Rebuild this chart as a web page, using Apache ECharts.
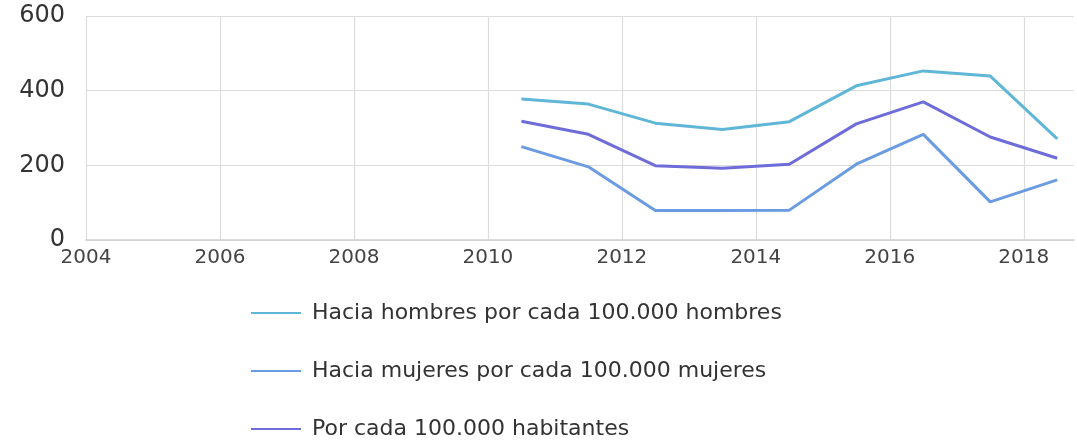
<!DOCTYPE html>
<html>
<head>
<meta charset="utf-8">
<script src="https://cdn.jsdelivr.net/npm/echarts@6/dist/echarts.min.js"></script>
<style>
html,body{margin:0;padding:0;background:#fff;}
#chart{width:1077px;height:440px;}
</style>
</head>
<body>
<div id="chart"></div>
<script>
var years = [2010.5, 2011.5, 2012.5, 2013.5, 2014.5, 2015.5, 2016.5, 2017.5, 2018.5];
var hombres = [378, 364, 313, 296, 317, 413, 453, 439, 271];
var mujeres = [250, 196, 79, 79, 80, 203, 283, 102, 161];
var habitantes = [318, 283, 199, 192, 203, 311, 370, 276, 219];
var seriesNames = ['Hacia hombres por cada 100.000 hombres', 'Hacia mujeres por cada 100.000 mujeres', 'Por cada 100.000 habitantes'];
var colors = ['#5fb6d6', '#6b9be0', '#6d6cd8'];
var yTicks = [0, 200, 400, 600];

function pairs(vals) { return years.map(function (y, i) { return [y, vals[i]]; }); }

var chart = echarts.init(document.getElementById('chart'));
var allSeries = [hombres, mujeres, habitantes].map(function (vals, i) {
  return {
    name: seriesNames[i],
    type: 'line',
    data: pairs(vals),
    symbol: 'none',
    lineStyle: { color: colors[i], width: 3 },
    itemStyle: { color: colors[i] },
    z: 3 + i
  };
});
var legendTops = [302, 360, 418];
var legends = seriesNames.map(function (name, i) {
  return {
    orient: 'vertical',
    left: 251,
    top: legendTops[i],
    padding: 0,
    itemWidth: 50,
    itemHeight: 14,
    icon: 'path://M0,6 L50,6 L50,8 L0,8 Z',
    data: [name],
    textStyle: { fontFamily: 'DejaVu Sans', fontSize: 22, lineHeight: 20, color: '#333', padding: [0, 0, 0, 6] }
  };
});
chart.setOption({
  animation: false,
  backgroundColor: '#fff',
  grid: { left: 86, right: 0, top: 16, bottom: 200 },
  xAxis: {
    type: 'value',
    min: 2004,
    max: 2018.75,
    interval: 2,
    axisLine: { show: true, lineStyle: { color: '#cfcfcf', width: 1.5 } },
    axisTick: { show: false },
    splitLine: { show: true, showMaxLine: false, lineStyle: { color: '#dcdcdc', width: 1.2 } },
    axisLabel: {
      fontFamily: 'DejaVu Sans', fontSize: 20, color: '#444', margin: 8,
      formatter: function (v) { return (Math.abs(v - Math.round(v)) < 1e-6 && Math.round(v) % 2 === 0) ? String(Math.round(v)) : ''; }
    }
  },
  yAxis: {
    type: 'value',
    min: yTicks[0],
    max: yTicks[yTicks.length - 1],
    interval: 200,
    axisLine: { show: false },
    axisTick: { show: false },
    splitLine: { show: true, lineStyle: { color: '#dcdcdc', width: 1.2 } },
    axisLabel: { fontFamily: 'DejaVu Sans', fontSize: 24, color: '#333', margin: 21 }
  },
  legend: legends,
  series: allSeries
});
</script>
</body>
</html>
